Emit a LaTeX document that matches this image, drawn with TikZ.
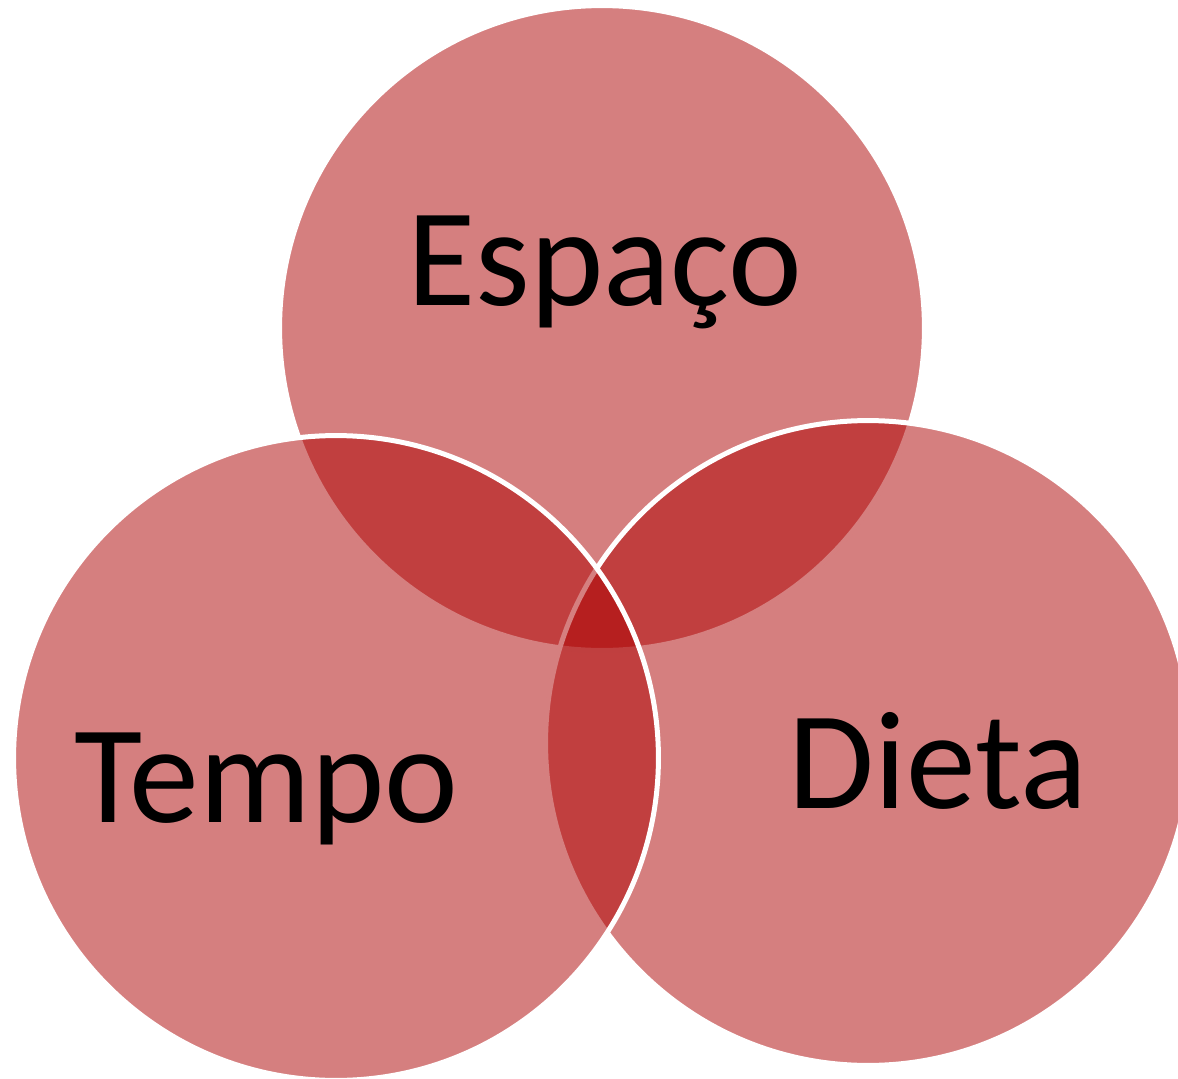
\documentclass[tikz,border=0pt]{standalone}
\usepackage{fontspec}
\setmainfont{Carlito}
\definecolor{vennred}{RGB}{172,0,0}
\tikzset{
  venn/.style={circle, minimum size=12.9cm, inner sep=0pt, outer sep=0pt,
    fill=vennred, fill opacity=0.5, draw=white, draw opacity=1, line width=0.1cm},
  lbl/.style={anchor=base, inner sep=0pt, text=black, font=\fontsize{79.5}{90}\selectfont}
}
\begin{document}
\begin{tikzpicture}[x=0.02cm, y=-0.02cm]
\useasboundingbox (0,0) rectangle (1178,1079);
\clip (0,0) rectangle (1178,1079);
\node[venn] (espaco) at (602,328) {};
\node[venn] (dieta) at (868,743) {};
\node[venn] (tempo) at (336,758) {};
\node[lbl] (tEspaco) at (605,305) {Espaço};
\node[lbl] (tTempo) at (266,822) {Tempo};
\node[lbl] (tDieta) at (938,808) {Dieta};
\end{tikzpicture}
\end{document}
